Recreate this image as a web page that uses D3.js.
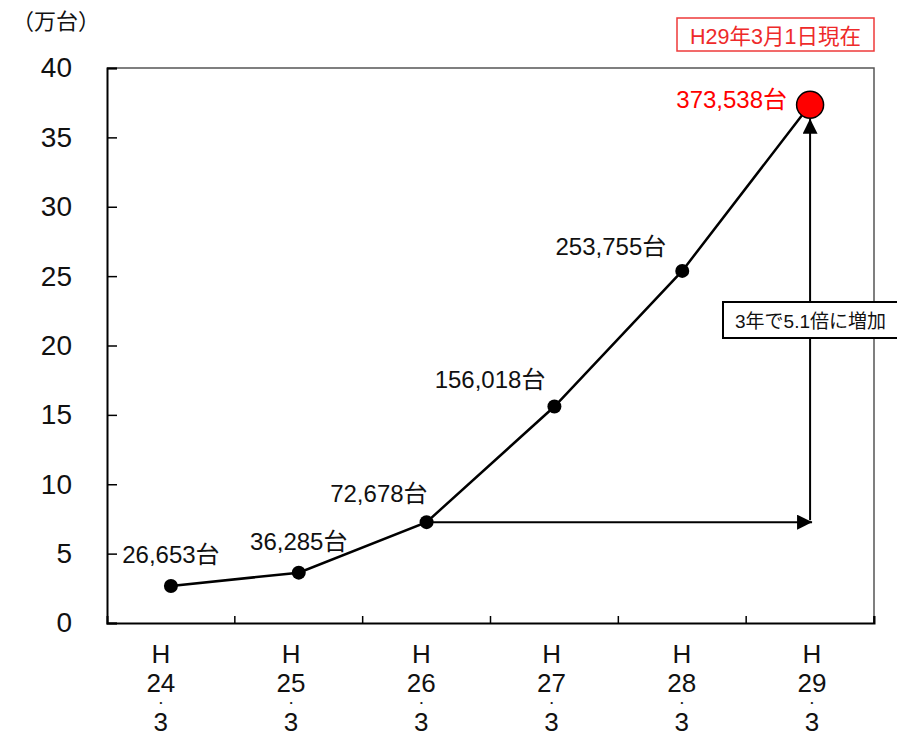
<!DOCTYPE html>
<html>
<head>
<meta charset="utf-8">
<script src="https://cdn.jsdelivr.net/npm/d3@7"></script>
<style>
  html, body { margin: 0; padding: 0; background: #fff; }
  svg { display: block; }
  text { font-family: "Liberation Sans", Arial, "Noto Sans CJK JP", sans-serif; }
</style>
</head>
<body>
<svg id="chart" width="897" height="737"></svg>
<script>
// ---- data ----
const categories = ["H24", "H25", "H26", "H27", "H28", "H29"];
const eraLabels = ["24", "25", "26", "27", "28", "29"];
const monthLabels = ["3", "3", "3", "3", "3", "3"];
const values = [26653, 36285, 72678, 156018, 253755, 373538];
const valueLabels = ["26,653台", "36,285台", "72,678台", "156,018台", "253,755台", "373,538台"];
const yTicks = [0, 5, 10, 15, 20, 25, 30, 35, 40];
const unitLabel = "（万台）";
const dateNote = "H29年3月1日現在";
const growthNote = "3年で5.1倍に増加";

// ---- layout ----
const svg = d3.select("#chart");
const L = 107, R = 874, T = 68, B = 623;
const x = d3.scaleBand().domain(categories).range([L, R]).paddingInner(0).paddingOuter(0);
const y = d3.scaleLinear().domain([0, 40]).range([B, T]);
const cx = c => x(c) + x.bandwidth() / 2;
const pts = categories.map((c, i) => ({ c, v: values[i] / 10000, i }));

// marker defs
const defs = svg.append("defs");
defs.append("marker").attr("id", "arr").attr("viewBox", "0 0 10 10")
  .attr("refX", 10).attr("refY", 5).attr("markerWidth", 15).attr("markerHeight", 15)
  .attr("markerUnits", "userSpaceOnUse").attr("orient", "auto")
  .append("path").attr("d", "M0,0 L10,5 L0,10 Z").attr("fill", "#000");

// frame (top/right)
svg.append("path").attr("d", `M${L},${T}H${R}V${B}`).attr("fill", "none")
  .attr("stroke", "#555").attr("stroke-width", 1.5);

// y axis
const yAxis = svg.append("g").attr("transform", `translate(${L},0)`)
  .call(d3.axisLeft(y).tickValues(yTicks).tickSize(-10).tickPadding(35).tickFormat(d3.format("d")));
yAxis.select(".domain").attr("stroke", "#000").attr("stroke-width", 2);
yAxis.selectAll(".tick line").attr("stroke", "#000").attr("stroke-width", 1.5);
yAxis.selectAll(".tick text").attr("font-size", 28).attr("fill", "#111")
  .attr("font-family", "'Liberation Sans', Arial, sans-serif");

// x axis
const xAxis = svg.append("g").attr("transform", `translate(0,${B})`)
  .call(d3.axisBottom(x).tickSize(-7).tickFormat(""));
xAxis.select(".domain").attr("stroke", "#000").attr("stroke-width", 2);
xAxis.selectAll(".tick line").attr("x1", x.bandwidth() / 2).attr("x2", x.bandwidth() / 2)
  .attr("stroke", "#000").attr("stroke-width", 1.5);
xAxis.selectAll(".tick").each(function (d, i) {
  const g = d3.select(this);
  const dx = (i - 4.2) * 2.4;
  const mk = (yy, fs, txt) => g.append("text").attr("x", dx).attr("y", yy)
    .attr("fill", "#111").attr("font-size", fs).attr("text-anchor", "middle")
    .attr("font-family", "'Liberation Sans', Arial, sans-serif").text(txt);
  mk(40, 26, "H");
  mk(69, 26, eraLabels[i]);
  mk(82, 8, "•");
  mk(108, 26, monthLabels[i]);
});

// arrows
const p3 = pts[2], p6 = pts[5];
svg.append("line").attr("x1", cx(p3.c)).attr("y1", y(p3.v))
  .attr("x2", cx(p6.c) + 2).attr("y2", y(p3.v))
  .attr("stroke", "#000").attr("stroke-width", 2).attr("marker-end", "url(#arr)");
svg.append("line").attr("x1", cx(p6.c)).attr("y1", y(p3.v) - 2)
  .attr("x2", cx(p6.c)).attr("y2", y(p6.v) + 14)
  .attr("stroke", "#000").attr("stroke-width", 2).attr("marker-end", "url(#arr)");

// growth note box
const gb = svg.append("g");
gb.append("rect").attr("x", 723).attr("y", 302).attr("width", 190).attr("height", 36)
  .attr("fill", "#fff").attr("stroke", "#000").attr("stroke-width", 2);
gb.append("text").attr("x", 735).attr("y", 328).attr("font-size", 19).attr("fill", "#111")
  .text(growthNote);

// line
svg.append("path").datum(pts)
  .attr("d", d3.line().x(d => cx(d.c)).y(d => y(d.v)))
  .attr("fill", "none").attr("stroke", "#000").attr("stroke-width", 2.5);

// dots
svg.selectAll("circle.dot").data(pts.slice(0, 5)).join("circle").attr("class", "dot")
  .attr("cx", d => cx(d.c)).attr("cy", d => y(d.v)).attr("r", 7).attr("fill", "#000");
svg.append("circle").attr("cx", cx(p6.c)).attr("cy", y(p6.v)).attr("r", 13.5)
  .attr("fill", "#ff0000").attr("stroke", "#000").attr("stroke-width", 1.5);

// value labels
const labelOffsets = [[0, -23, "middle"], [0, -23, "middle"], [1, -20, "end"],
  [-9, -19, "end"], [-16, -16, "end"], [-23, 3, "end"]];
svg.selectAll("text.val").data(pts).join("text").attr("class", "val")
  .attr("x", d => cx(d.c) + labelOffsets[d.i][0])
  .attr("y", d => y(d.v) + labelOffsets[d.i][1])
  .attr("text-anchor", d => labelOffsets[d.i][2])
  .attr("font-size", 24)
  .attr("fill", d => d.i === 5 ? "#ff0000" : "#111")
  .text(d => valueLabels[d.i]);

// unit label
svg.append("text").attr("x", 56).attr("y", 29).attr("text-anchor", "middle")
  .attr("font-size", 22).attr("fill", "#111").text(unitLabel);

// date note
svg.append("rect").attr("x", 677).attr("y", 18).attr("width", 197).attr("height", 33)
  .attr("fill", "#fff").attr("stroke", "#ee3a3a").attr("stroke-width", 1.5);
svg.append("text").attr("x", 775.5).attr("y", 44).attr("text-anchor", "middle")
  .attr("font-size", 21.5).attr("fill", "#ee2a2a").text(dateNote);
</script>
</body>
</html>
